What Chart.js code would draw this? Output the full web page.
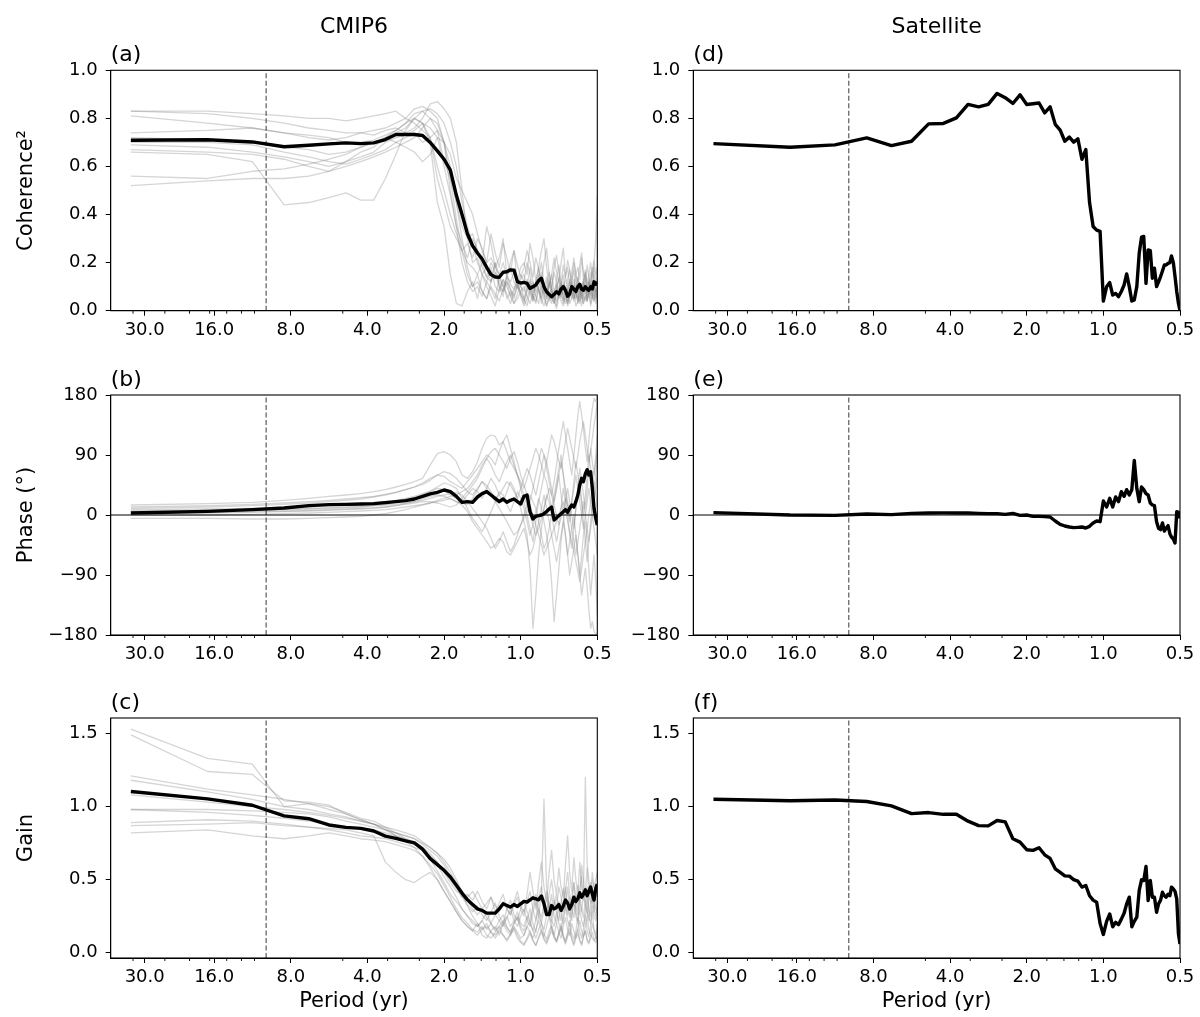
<!DOCTYPE html>
<html>
<head>
<meta charset="utf-8">
<script src="https://cdn.jsdelivr.net/npm/chart.js@4.4.1/dist/chart.umd.min.js"></script>
<style>
  html, body { margin: 0; padding: 0; background: #fff; }
  #wrap { position: relative; width: 1200px; height: 1017px; overflow: hidden; }
  canvas { position: absolute; }
</style>
</head>
<body>
<div id="wrap">
  <canvas id="pa" width="620" height="345" style="left:0px;top:0px"></canvas>
  <canvas id="pb" width="620" height="345" style="left:0px;top:345px"></canvas>
  <canvas id="pc" width="620" height="357" style="left:0px;top:660px"></canvas>
  <canvas id="pd" width="600" height="345" style="left:600px;top:0px"></canvas>
  <canvas id="pe" width="600" height="345" style="left:600px;top:345px"></canvas>
  <canvas id="pf" width="600" height="357" style="left:600px;top:660px"></canvas>
</div>
<script>
// Spectral grid: periods (yr) of the estimates, longest first
const periods = [34, 17, 11.33, 8.5, 6.8, 5.667, 4.857, 4.25, 3.778, 3.4,
  3.091, 2.833, 2.615, 2.429, 2.267, 2.125, 2.0, 1.889, 1.789, 1.7,
  1.619, 1.545, 1.478, 1.417, 1.36, 1.308, 1.259, 1.214, 1.172, 1.133,
  1.097, 1.0625, 1.030, 1.0, 0.971, 0.944, 0.919, 0.895, 0.872, 0.85,
  0.829, 0.810, 0.791, 0.773, 0.756, 0.739, 0.723, 0.708, 0.694, 0.68,
  0.667, 0.654, 0.642, 0.630, 0.618, 0.607, 0.596, 0.586, 0.576, 0.567,
  0.557, 0.548, 0.540, 0.531, 0.523, 0.515, 0.507, 0.5];

const tickPeriods = [30, 16, 8, 4, 2, 1, 0.5];
const minorFreqs = [0.03, 0.04, 0.05, 0.06, 0.07, 0.08, 0.09, 0.2, 0.3, 0.4, 0.6, 0.7, 0.8, 0.9];
const cutoffPeriod = 10;

// CMIP6 multi-model mean
const cohMean = [.709,.711,.702,.682,.688,.694,.698,.695,.698,.712,
  .733,.733,.733,.729,.70,.665,.63,.585,.48,.40,
  .32,.27,.24,.215,.18,.15,.14,.139,.16,.162,
  .17,.169,.121,.115,.118,.114,.093,.10,.107,.125,
  .135,.10,.079,.068,.058,.068,.079,.07,.09,.10,
  .085,.06,.07,.10,.09,.08,.10,.11,.09,.085,
  .10,.09,.085,.10,.09,.12,.11,.12];
const phaseMean = [3,5.5,8,10.5,14,15.6,16,16.6,17,18.6,
  20,21.6,24,28,31.7,34,37.5,35,28,19,
  20,19,27,32,35,30,25,20,24,19,
  22,24,20,16.5,28,30,5,-6,-2,-1,
  0,2,5,9,12,-7.5,-4,-1,2,5,
  8,4,10,15,12,20,30,45,55,50,
  62,68,60,65,40,10,-5,-15];
const gainMean = [1.103,1.053,1.009,0.936,0.917,0.874,0.858,0.851,0.833,0.798,
  0.782,0.766,0.752,0.709,0.644,0.603,0.564,0.518,0.461,0.408,
  0.362,0.33,0.30,0.289,0.271,0.271,0.271,0.30,0.335,0.323,
  0.312,0.33,0.317,0.335,0.351,0.346,0.362,0.376,0.369,0.362,
  0.388,0.335,0.261,0.261,0.323,0.30,0.31,0.33,0.29,0.32,
  0.36,0.34,0.30,0.33,0.38,0.35,0.37,0.41,0.38,0.40,
  0.43,0.39,0.42,0.45,0.40,0.36,0.44,0.47];

// Satellite estimates
const satCoh = [.695,.680,.690,.719,.687,.705,.777,.779,.802,.858,
  .848,.858,.904,.886,.862,.898,.858,.861,.864,.823,
  .848,.775,.751,.705,.722,.701,.715,.63,.67,.45,
  .35,.335,.33,.04,.10,.117,.065,.072,.058,.08,
  .107,.153,.10,.04,.045,.10,.24,.306,.309,.114,
  .253,.25,.135,.177,.10,.12,.142,.165,.19,.19,
  .197,.20,.228,.20,.142,.08,.03,0];
const satPhase = [3.5,0,-0.5,1.5,0.5,2.5,3,3.2,3,3,
  2.5,2,2,1,2.5,-0.5,0,-2,-2,-2.5,
  -3,-9,-14,-16.5,-18,-19,-18.5,-18,-19.5,-17,
  -12,-9,-10,21,12,25,12,27,20,35,
  28,38,30,38,82,40,20,42,38,32,
  30,18,15,14,-10,-20,-22,-12,-24,-20,
  -16,-28,-33,-36,-42,5,4,-5];
const satGain = [1.050,1.040,1.045,1.035,1.005,0.952,0.959,0.947,0.947,0.900,
  0.870,0.868,0.905,0.895,0.780,0.757,0.705,0.700,0.718,0.670,
  0.645,0.574,0.550,0.526,0.524,0.500,0.490,0.449,0.460,0.390,
  0.360,0.346,0.200,0.125,0.215,0.265,0.178,0.208,0.192,0.230,
  0.270,0.334,0.380,0.178,0.215,0.243,0.426,0.499,0.494,0.590,
  0.357,0.494,0.380,0.380,0.277,0.334,0.360,0.414,0.390,0.380,
  0.400,0.390,0.449,0.437,0.420,0.368,0.128,0.060];

// Individual CMIP6 models (gray)
const cohModels = [
  [.83,.83,.82,.81,.80,.80,.79,.80,.81,.82,.83,.80,
   .78,.75,.72,.60,.50,.40,.32,.25,.20,.18,.15,.20,.14,.12,.16,.10,.08,.12,.09,.06,.10,.08,
   .05,.10,.07,.04,.12,.08,.05,.09,.14,.06,.03,.08,.11,.05,.07,.12,.09,.04,.06,.10,.13,.07,.05,.09,.11,.06,.04,.08,.12,.07,.05,.10,.08,.06],
  [.83,.82,.80,.78,.76,.75,.74,.74,.75,.76,.78,.80,
   .84,.85,.83,.80,.70,.55,.38,.25,.15,.10,.12,.08,.05,.10,.07,.04,.09,.12,.06,.03,.05,.08,
   .10,.06,.03,.07,.12,.09,.05,.02,.06,.10,.15,.08,.04,.07,.11,.06,.03,.09,.13,.07,.05,.10,.06,.03,.08,.12,.09,.05,.07,.11,.06,.04,.09,.07],
  [.81,.78,.76,.74,.72,.71,.72,.74,.73,.75,.76,.74,
   .76,.80,.86,.87,.84,.80,.70,.50,.30,.20,.22,.15,.18,.12,.20,.15,.10,.14,.18,.12,.09,.15,
   .12,.20,.15,.08,.12,.18,.10,.06,.11,.16,.09,.05,.13,.19,.11,.07,.14,.10,.06,.12,.17,.09,.13,.08,.05,.11,.15,.10,.07,.12,.18,.10,.08,.13],
  [.74,.75,.76,.74,.73,.72,.70,.70,.71,.73,.75,.78,
   .82,.83,.80,.75,.62,.55,.45,.35,.30,.32,.25,.20,.35,.28,.18,.22,.30,.15,.20,.25,.12,.18,
   .20,.15,.28,.22,.12,.18,.25,.30,.18,.10,.15,.22,.16,.12,.20,.26,.14,.18,.10,.16,.22,.15,.12,.19,.24,.13,.17,.11,.15,.20,.14,.18,.12,.16],
  [.72,.71,.70,.68,.67,.65,.66,.68,.70,.72,.74,.76,
   .80,.83,.84,.82,.78,.70,.60,.45,.35,.28,.20,.15,.12,.18,.10,.08,.13,.10,.06,.09,.12,.07,
   .04,.08,.12,.06,.03,.09,.05,.11,.07,.04,.10,.06,.02,.08,.12,.05,.09,.03,.07,.11,.05,.08,.04,.10,.06,.03,.09,.07,.12,.05,.08,.04,.10,.06],
  [.70,.70,.69,.66,.64,.62,.61,.63,.65,.67,.70,.72,
   .74,.70,.72,.75,.70,.65,.55,.50,.45,.40,.32,.25,.20,.22,.18,.15,.20,.14,.12,.16,.10,.13,
   .15,.10,.18,.12,.08,.14,.20,.11,.07,.13,.09,.16,.12,.06,.10,.15,.08,.13,.17,.09,.11,.07,.14,.10,.05,.12,.16,.09,.13,.07,.11,.15,.10,.12],
  [.69,.68,.66,.64,.62,.60,.62,.64,.66,.70,.72,.73,
   .75,.78,.76,.72,.60,.48,.35,.28,.22,.30,.25,.18,.14,.20,.16,.12,.08,.15,.11,.09,.13,.10,
   .08,.13,.09,.05,.11,.15,.07,.10,.06,.12,.08,.04,.09,.13,.06,.10,.07,.03,.08,.12,.07,.05,.10,.06,.09,.13,.07,.04,.08,.11,.06,.09,.05,.10],
  [.67,.66,.65,.63,.60,.58,.60,.62,.64,.66,.68,.70,
   .72,.76,.80,.78,.70,.50,.35,.20,.12,.08,.10,.06,.12,.09,.05,.14,.10,.07,.03,.08,.11,.06,
   .02,.05,.09,.04,.07,.10,.03,.06,.02,.08,.05,.03,.07,.10,.04,.02,.06,.09,.03,.05,.08,.02,.04,.07,.10,.03,.06,.04,.08,.02,.05,.07,.03,.06],
  [.66,.65,.62,.44,.45,.47,.49,.46,.46,.55,.65,.75,
   .80,.78,.72,.55,.45,.35,.30,.25,.28,.22,.30,.26,.20,.32,.24,.18,.28,.22,.16,.25,.19,.14,
   .18,.25,.20,.14,.22,.17,.12,.20,.26,.15,.10,.18,.23,.16,.11,.19,.14,.21,.17,.12,.20,.15,.18,.13,.22,.16,.12,.19,.14,.10,.17,.21,.15,.18],
  [.56,.55,.58,.59,.61,.63,.65,.68,.70,.72,.70,.68,
   .66,.62,.65,.72,.70,.60,.45,.30,.18,.10,.15,.08,.05,.12,.20,.10,.06,.14,.09,.05,.11,.07,
   .03,.09,.13,.06,.04,.10,.16,.08,.05,.11,.07,.03,.09,.14,.06,.04,.10,.08,.12,.05,.09,.15,.07,.04,.11,.08,.13,.06,.10,.16,.09,.20,.30,.48],
  [.52,.54,.55,.55,.56,.58,.62,.66,.68,.72,.75,.78,
   .80,.78,.70,.45,.35,.15,.03,.02,.08,.12,.05,.15,.10,.06,.02,.09,.13,.05,.08,.03,.07,.11,
   .05,.02,.08,.12,.06,.03,.10,.07,.02,.05,.09,.04,.01,.06,.10,.03,.07,.02,.05,.09,.04,.08,.03,.06,.02,.07,.11,.04,.08,.03,.06,.10,.05,.07]
];

const phaseModels = [
  [15,17,19,22,25,28,30,32,35,38,42,46,
   50,55,75,92,95,90,80,60,55,65,80,100,115,120,118,105,110,95,80,70,60,50,
   40,55,70,85,100,90,75,60,80,100,120,110,95,80,70,90,110,130,115,100,85,70,90,110,125,140,120,100,80,95,115,135,150,170],
  [10,12,14,16,18,20,22,24,27,30,34,38,
   42,48,55,60,58,50,45,40,50,60,70,80,90,85,75,95,110,120,100,80,60,40,
   20,0,-20,-40,-10,20,40,60,50,30,10,30,50,70,90,60,30,10,-10,20,50,80,60,40,20,0,30,60,90,70,50,30,60,90],
  [5,6,7,8,9,10,11,12,14,16,19,22,
   26,30,35,40,38,30,25,20,30,40,35,25,40,55,45,30,20,35,50,40,25,10,
   -10,-30,-80,-170,-120,-60,-20,10,30,20,0,-20,-40,-20,10,40,20,0,-30,-50,-20,10,30,50,20,-10,-40,-70,-40,-10,20,50,30,10],
  [2,3,4,5,6,7,8,9,10,12,14,17,
   20,22,25,28,30,32,34,30,20,10,0,-10,-20,-35,-50,-40,-25,-40,-55,-45,-30,-15,
   0,15,30,20,10,-10,-30,-50,-40,-20,0,20,40,60,30,0,-30,-60,-40,-20,0,-30,-60,-90,-60,-30,-10,-40,-80,-120,-90,-60,-100,-150],
  [0,0,1,2,3,4,5,6,7,8,10,12,
   14,16,18,20,22,25,20,15,5,-10,-20,-30,-40,-50,-45,-35,-40,-55,-60,-50,-40,-30,
   -20,-40,-60,-50,-30,-10,10,30,10,-10,-30,-50,-70,-50,-30,-10,-30,-60,-90,-70,-50,-30,-60,-90,-120,-100,-80,-110,-140,-170,-160,-175,-178,-180],
  [-5,-5,-6,-6,-5,-4,-3,-2,0,2,5,8,
   12,15,18,22,25,28,30,35,40,50,60,75,85,95,100,90,80,70,85,95,80,60,
   45,30,20,40,60,80,100,90,70,50,30,50,75,100,120,140,120,100,80,60,90,120,150,170,150,130,100,80,110,140,160,175,170,180],
  [12,14,16,18,20,22,24,26,28,31,34,38,
   42,46,52,60,65,62,55,45,35,30,40,50,45,35,25,30,40,50,45,35,25,40,
   55,70,60,45,30,50,70,90,80,60,40,20,40,60,80,60,40,20,0,20,40,60,40,20,0,-20,0,20,40,20,0,-20,-40,-60],
  [8,9,10,11,12,14,15,16,18,20,22,25,
   28,32,36,42,48,45,40,25,10,-5,-15,-25,-10,5,20,35,30,15,5,20,35,25,
   10,-10,-30,-15,5,25,10,-10,-30,-60,-100,-160,-120,-80,-40,-10,20,40,20,0,-20,10,40,70,50,30,10,40,70,100,80,60,90,120],
  [3,4,5,6,7,8,9,10,11,12,14,16,
   18,20,20,18,15,12,15,25,35,45,55,70,85,75,60,50,65,80,90,75,60,45,
   30,15,0,-15,-30,-20,-5,10,25,40,30,15,0,-15,-5,10,25,15,0,-20,-40,-60,-40,-20,0,20,0,-20,-40,-20,0,20,40,60],
  [6,7,8,9,10,11,12,13,14,15,16,18,
   20,24,28,30,28,24,20,18,16,25,38,50,40,30,20,10,0,-10,-20,-30,-25,-15,
   -5,5,15,0,-15,-30,-45,-60,-50,-40,-30,-20,-10,0,10,20,5,-10,-25,-40,-55,-70,-85,-100,-80,-60,-40,-20,0,20,40,60,80,100]
];

const gainModels = [
  [1.53,1.33,1.29,1.00,1.02,1.00,0.96,0.92,0.90,0.86,0.82,0.78,
   0.75,0.72,0.68,0.62,0.55,0.48,0.42,0.40,0.38,0.42,0.36,0.30,0.34,0.38,0.32,0.28,0.35,0.30,0.26,0.33,0.38,0.30,
   0.25,0.35,0.42,0.30,0.22,0.38,0.45,0.33,0.28,0.40,0.50,0.36,0.30,0.45,0.38,0.28,0.42,0.55,0.40,0.32,0.48,0.38,0.30,0.44,0.52,0.36,0.42,0.58,0.40,0.34,0.50,0.44,0.38,0.46],
  [1.49,1.24,1.22,1.04,1.03,1.01,0.95,0.91,0.88,0.85,0.80,0.77,
   0.74,0.70,0.64,0.56,0.48,0.40,0.35,0.30,0.25,0.20,0.18,0.22,0.16,0.20,0.15,0.18,0.22,0.17,0.14,0.20,0.25,0.18,
   0.15,0.22,0.30,0.20,0.14,0.25,0.40,1.05,0.45,0.30,0.40,0.25,0.20,0.35,0.28,0.20,0.32,0.45,0.30,0.22,0.38,0.28,0.22,0.35,0.60,0.50,0.35,0.45,0.30,0.25,0.40,0.35,0.30,0.28],
  [1.21,1.12,1.08,1.05,1.02,0.98,0.95,0.91,0.88,0.84,0.80,0.76,
   0.72,0.66,0.58,0.50,0.42,0.35,0.28,0.22,0.18,0.15,0.20,0.12,0.10,0.15,0.18,0.12,0.20,0.25,0.18,0.22,0.28,0.20,
   0.18,0.25,0.20,0.15,0.22,0.30,0.20,0.16,0.25,0.35,0.22,0.18,0.28,0.20,0.15,0.25,0.32,0.22,0.18,0.28,0.35,0.25,0.20,0.30,0.22,0.18,0.28,0.38,0.25,0.20,0.32,0.25,0.22,0.28],
  [1.18,1.10,1.05,1.00,0.98,0.95,0.93,0.90,0.88,0.84,0.82,0.80,
   0.78,0.74,0.70,0.66,0.60,0.52,0.45,0.38,0.40,0.36,0.42,0.35,0.30,0.38,0.28,0.34,0.40,0.30,0.26,0.35,0.42,0.32,
   0.28,0.40,0.55,0.42,0.30,0.48,0.62,0.45,0.35,0.55,0.70,0.50,0.40,0.58,0.45,0.38,0.60,0.80,0.55,0.42,0.65,0.50,0.40,0.62,0.45,0.38,1.20,0.60,0.50,0.42,0.55,0.45,0.50,0.55],
  [1.08,1.03,1.00,0.98,0.96,0.94,0.92,0.90,0.88,0.86,0.84,0.82,
   0.80,0.76,0.72,0.68,0.62,0.55,0.48,0.40,0.32,0.25,0.20,0.16,0.18,0.14,0.12,0.16,0.20,0.15,0.12,0.18,0.14,0.10,
   0.12,0.18,0.14,0.10,0.16,0.22,0.15,0.11,0.18,0.25,0.16,0.12,0.20,0.14,0.10,0.18,0.24,0.16,0.12,0.20,0.15,0.10,0.17,0.22,0.15,0.11,0.18,0.25,0.16,0.12,0.20,0.15,0.10,0.16],
  [0.98,0.98,0.97,0.96,0.95,0.93,0.90,0.88,0.86,0.84,0.82,0.80,
   0.78,0.75,0.72,0.68,0.64,0.58,0.50,0.42,0.36,0.30,0.26,0.30,0.24,0.20,0.26,0.22,0.18,0.24,0.30,0.22,0.18,0.25,
   0.30,0.22,0.18,0.28,0.35,0.25,0.20,0.30,0.38,0.26,0.20,0.32,0.40,0.28,0.22,0.35,0.45,0.30,0.24,0.38,0.48,0.32,0.26,0.40,0.30,0.24,0.36,0.28,0.22,0.34,0.42,0.30,0.25,0.35],
  [0.98,0.96,0.94,0.92,0.90,0.88,0.86,0.85,0.84,0.82,0.80,0.78,
   0.76,0.72,0.66,0.60,0.52,0.45,0.38,0.30,0.25,0.22,0.18,0.22,0.28,0.20,0.16,0.22,0.26,0.18,0.14,0.20,0.24,0.16,
   0.12,0.18,0.22,0.15,0.10,0.16,0.20,0.13,0.09,0.15,0.19,0.12,0.08,0.14,0.18,0.11,0.07,0.13,0.17,0.10,0.06,0.12,0.16,0.09,0.05,0.11,0.15,0.08,0.06,0.10,0.14,0.09,0.07,0.12],
  [0.89,0.91,0.90,0.88,0.86,0.85,0.84,0.82,0.80,0.62,0.55,0.50,
   0.48,0.52,0.55,0.50,0.42,0.35,0.28,0.22,0.18,0.15,0.12,0.16,0.20,0.14,0.10,0.15,0.12,0.08,0.12,0.16,0.10,0.07,
   0.05,0.09,0.13,0.08,0.05,0.10,0.14,0.09,0.06,0.11,0.15,0.10,0.07,0.12,0.16,0.10,0.06,0.11,0.14,0.09,0.05,0.10,0.13,0.08,0.06,0.11,0.15,0.09,0.07,0.12,0.10,0.08,0.11,0.09],
  [0.87,0.88,0.89,0.87,0.86,0.84,0.82,0.80,0.79,0.78,0.76,0.74,
   0.72,0.70,0.66,0.62,0.56,0.50,0.44,0.38,0.33,0.28,0.32,0.26,0.22,0.28,0.34,0.25,0.20,0.30,0.36,0.26,0.22,0.30,
   0.36,0.28,0.22,0.32,0.40,0.30,0.24,0.34,0.42,0.30,0.25,0.36,0.28,0.22,0.34,0.44,0.32,0.26,0.38,0.30,0.24,0.36,0.46,0.34,0.28,0.40,0.32,0.26,0.38,0.48,0.35,0.28,0.40,0.45],
  [0.82,0.84,0.80,0.78,0.80,0.82,0.80,0.78,0.77,0.76,0.74,0.72,
   0.70,0.66,0.60,0.54,0.46,0.38,0.30,0.24,0.20,0.16,0.14,0.18,0.12,0.10,0.14,0.18,0.12,0.09,0.13,0.17,0.12,0.08,
   0.06,0.10,0.15,0.09,0.05,0.11,0.16,0.10,0.07,0.12,0.18,0.11,0.08,0.13,0.20,0.12,0.08,0.14,0.22,0.13,0.09,0.15,0.24,0.14,0.10,0.16,0.26,0.15,0.11,0.18,0.28,0.16,0.12,0.20]
];

Chart.defaults.font.family = '"DejaVu Sans", sans-serif';
Chart.defaults.color = '#000';

const xMin = 1 / 40.8, xMax = 2;
const toPoints = vals => vals.map((v, i) => ({ x: 1 / periods[i], y: v }));
const minus = v => (v < 0 ? '\u2212' + Math.abs(v) : String(v));

// frame, minor ticks and panel texts
const decorations = {
  id: 'decorations',
  afterDatasetsDraw(chart, args, opts) {
    const { ctx, chartArea: a, scales: { x } } = chart;
    ctx.save();
    ctx.strokeStyle = '#000';
    ctx.lineWidth = 1.1;
    ctx.strokeRect(a.left, a.top, a.right - a.left, a.bottom - a.top);
    ctx.lineWidth = 0.9;
    ctx.beginPath();
    minorFreqs.forEach(f => {
      const px = x.getPixelForValue(f);
      ctx.moveTo(px, a.bottom);
      ctx.lineTo(px, a.bottom + 3);
    });
    ctx.stroke();
    ctx.fillStyle = '#000';
    ctx.font = '22px "DejaVu Sans"';
    ctx.textBaseline = 'alphabetic';
    ctx.textAlign = 'left';
    ctx.fillText(opts.label, a.left, a.top - 9);
    if (opts.header) {
      ctx.textAlign = 'center';
      ctx.fillText(opts.header, (a.left + a.right) / 2, 33);
    }
    ctx.restore();
  }
};

const columns = {
  left: { yWidth: 110.7, padRight: 22.7 },
  right: { yWidth: 93.3, padRight: 20 }
};
const rows = {
  top: { padTop: 70.3, xHeight: 34.3 },
  mid: { padTop: 50, xHeight: 55 },
  bottom: { padTop: 58, xHeight: 59 }
};

const yKinds = {
  coh: { min: 0, max: 1, ticks: [0, 0.2, 0.4, 0.6, 0.8, 1.0], fmt: v => v.toFixed(1), title: 'Coherence\u00b2' },
  phase: { min: -180, max: 180, ticks: [-180, -90, 0, 90, 180], fmt: minus, title: 'Phase (\u00b0)' },
  gain: { min: -0.036, max: 1.606, ticks: [0, 0.5, 1.0, 1.5], fmt: v => v.toFixed(1), title: 'Gain' }
};

function makePanel(id, cfg) {
  const yk = yKinds[cfg.kind];
  const col = columns[cfg.col];
  const row = rows[cfg.row];

  const datasets = [{
    data: toPoints(cfg.main), borderColor: '#000', borderWidth: 3.4, order: 0
  }];
  if (cfg.kind === 'phase') {
    datasets.push({ data: [{ x: xMin, y: 0 }, { x: xMax, y: 0 }], borderColor: '#000', borderWidth: 1, order: 1 });
  }
  datasets.push({
    data: [{ x: 1 / cutoffPeriod, y: yk.min }, { x: 1 / cutoffPeriod, y: yk.max }],
    borderColor: 'rgba(70,70,70,0.9)', borderWidth: 1.2, borderDash: [5, 2.5], order: 2
  });
  (cfg.models || []).forEach(m => datasets.push({
    data: toPoints(m), borderColor: 'rgba(128,128,128,0.33)', borderWidth: 1.3, order: 3
  }));

  new Chart(document.getElementById(id), {
    type: 'line',
    data: { datasets },
    options: {
      responsive: false,
      animation: false,
      layout: { padding: { left: 0, top: row.padTop, right: col.padRight, bottom: 0 } },
      elements: {
        point: { radius: 0 },
        line: { tension: 0, borderJoinStyle: 'round', borderCapStyle: 'butt', fill: false }
      },
      plugins: {
        legend: { display: false },
        tooltip: { enabled: false },
        decorations: { label: cfg.label, header: cfg.header }
      },
      scales: {
        x: {
          type: 'logarithmic',
          min: xMin, max: xMax,
          bounds: 'data',
          afterBuildTicks: s => { s.ticks = tickPeriods.map(p => ({ value: 1 / p })); },
          afterFit: s => { s.height = row.xHeight; },
          ticks: {
            autoSkip: false, maxRotation: 0, minRotation: 0, padding: 4,
            font: { size: 18 },
            callback: v => {
              const p = tickPeriods.find(t => Math.abs(1 / v - t) < 1e-6);
              return p === undefined ? '' : p.toFixed(1);
            }
          },
          grid: { drawOnChartArea: false, tickLength: 5, tickColor: '#000', tickWidth: 1 },
          border: { display: true, color: '#000', width: 1 },
          title: {
            display: cfg.row === 'bottom', text: 'Period (yr)',
            font: { size: 21 }, padding: { top: 0, bottom: 2.5 }
          }
        },
        y: {
          type: 'linear',
          min: yk.min, max: yk.max,
          afterBuildTicks: s => { s.ticks = yk.ticks.map(v => ({ value: v })); },
          afterFit: s => { s.width = col.yWidth; },
          ticks: { padding: 8, font: { size: 18 }, callback: v => yk.fmt(v) },
          grid: { drawOnChartArea: false, tickLength: 5, tickColor: '#000', tickWidth: 1 },
          border: { display: true, color: '#000', width: 1 },
          title: {
            display: cfg.col === 'left', text: yk.title,
            font: { size: 21 }, padding: { top: 14, bottom: 0 }
          }
        }
      }
    },
    plugins: [decorations]
  });
}

makePanel('pa', { kind: 'coh', col: 'left', row: 'top', label: '(a)', header: 'CMIP6', main: cohMean, models: cohModels });
makePanel('pb', { kind: 'phase', col: 'left', row: 'mid', label: '(b)', main: phaseMean, models: phaseModels });
makePanel('pc', { kind: 'gain', col: 'left', row: 'bottom', label: '(c)', main: gainMean, models: gainModels });
makePanel('pd', { kind: 'coh', col: 'right', row: 'top', label: '(d)', header: 'Satellite', main: satCoh });
makePanel('pe', { kind: 'phase', col: 'right', row: 'mid', label: '(e)', main: satPhase });
makePanel('pf', { kind: 'gain', col: 'right', row: 'bottom', label: '(f)', main: satGain });
</script>
</body>
</html>
